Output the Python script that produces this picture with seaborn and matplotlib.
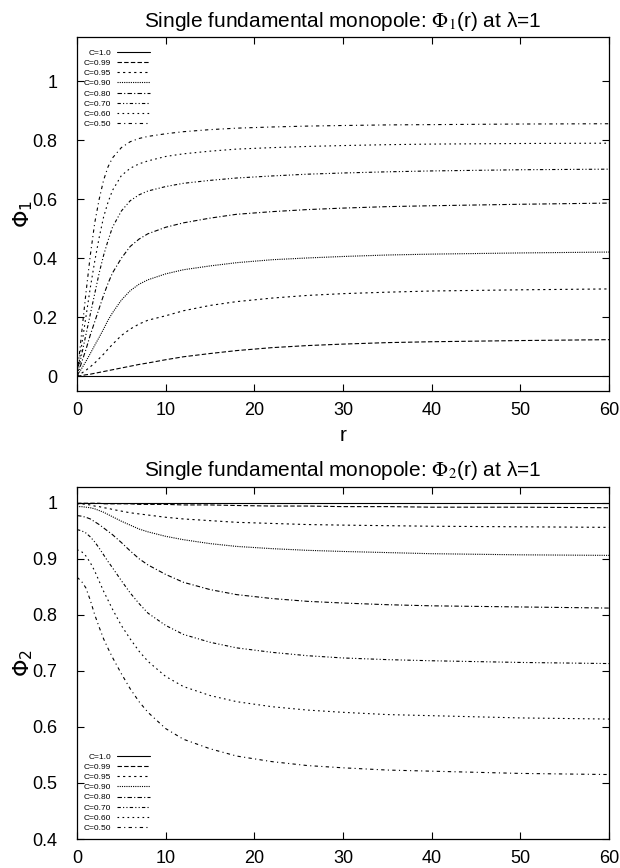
import numpy as np
import pandas as pd
import seaborn as sns
import matplotlib
matplotlib.use("Agg")
import matplotlib.pyplot as plt

# radial grid
r = [0, 0.5, 1, 1.5, 2, 2.5, 3, 3.5, 4, 5, 6, 7, 8, 10, 12, 15, 18, 22, 26, 30, 35, 40, 50, 60]

labels = ["C=1.0", "C=0.99", "C=0.95", "C=0.90", "C=0.80", "C=0.70", "C=0.60", "C=0.50"]

# Phi_1(r)
phi1_c100 = [0] * len(r)
phi1_c099 = [0, 0.002, 0.005, 0.007, 0.01, 0.013, 0.016, 0.019, 0.022, 0.028, 0.034, 0.04, 0.045, 0.056,
             0.066, 0.077, 0.087, 0.097, 0.104, 0.109, 0.114, 0.117, 0.121, 0.124]
phi1_c095 = [0, 0.01, 0.02, 0.032, 0.045, 0.06, 0.075, 0.092, 0.108, 0.138, 0.16, 0.177, 0.19, 0.205,
             0.222, 0.24, 0.253, 0.265, 0.274, 0.28, 0.285, 0.289, 0.293, 0.296]
phi1_c090 = [0, 0.025, 0.05, 0.077, 0.105, 0.132, 0.16, 0.19, 0.215, 0.258, 0.29, 0.312, 0.327, 0.347,
             0.361, 0.374, 0.385, 0.395, 0.401, 0.406, 0.411, 0.414, 0.418, 0.421]
phi1_c080 = [0, 0.045, 0.09, 0.14, 0.185, 0.23, 0.275, 0.315, 0.35, 0.40, 0.44, 0.465, 0.483, 0.505,
             0.52, 0.536, 0.549, 0.558, 0.565, 0.57, 0.575, 0.578, 0.583, 0.587]
phi1_c070 = [0, 0.07, 0.14, 0.21, 0.28, 0.35, 0.41, 0.46, 0.505, 0.56, 0.595, 0.615, 0.628, 0.643,
             0.654, 0.664, 0.672, 0.679, 0.685, 0.689, 0.693, 0.696, 0.7, 0.702]
phi1_c060 = [0, 0.10, 0.20, 0.30, 0.39, 0.47, 0.54, 0.59, 0.63, 0.68, 0.705, 0.72, 0.73, 0.745,
             0.754, 0.763, 0.77, 0.775, 0.779, 0.782, 0.785, 0.787, 0.789, 0.79]
phi1_c050 = [0, 0.14, 0.28, 0.41, 0.52, 0.60, 0.665, 0.71, 0.74, 0.775, 0.795, 0.806, 0.813, 0.822,
             0.829, 0.836, 0.841, 0.845, 0.848, 0.85, 0.852, 0.853, 0.855, 0.856]

# Phi_2(r)
phi2_c100 = [1] * len(r)
phi2_c099 = [0.999, 0.999, 0.999, 0.999, 0.999, 0.999, 0.998, 0.998, 0.998, 0.998, 0.998, 0.997, 0.997,
             0.997, 0.996, 0.996, 0.995, 0.994, 0.994, 0.993, 0.993, 0.992, 0.992, 0.991]
phi2_c095 = [0.998, 0.998, 0.997, 0.996, 0.994, 0.993, 0.991, 0.99, 0.988, 0.985, 0.982, 0.98, 0.978,
             0.974, 0.971, 0.968, 0.965, 0.963, 0.961, 0.96, 0.959, 0.958, 0.957, 0.956]
phi2_c090 = [0.993, 0.993, 0.992, 0.991, 0.989, 0.986, 0.983, 0.979, 0.975, 0.967, 0.96, 0.953, 0.948,
             0.94, 0.934, 0.927, 0.922, 0.918, 0.915, 0.913, 0.911, 0.909, 0.907, 0.906]
phi2_c080 = [0.977, 0.976, 0.974, 0.971, 0.966, 0.961, 0.955, 0.949, 0.943, 0.929, 0.914, 0.90, 0.889,
             0.872, 0.858, 0.845, 0.836, 0.829, 0.824, 0.821, 0.818, 0.816, 0.814, 0.812]
phi2_c070 = [0.952, 0.95, 0.946, 0.939, 0.93, 0.919, 0.907, 0.895, 0.884, 0.861, 0.839, 0.82, 0.803,
             0.781, 0.765, 0.751, 0.741, 0.733, 0.727, 0.723, 0.72, 0.718, 0.715, 0.713]
phi2_c060 = [0.916, 0.913, 0.905, 0.893, 0.878, 0.86, 0.842, 0.826, 0.81, 0.781, 0.757, 0.735, 0.717,
             0.69, 0.672, 0.656, 0.645, 0.636, 0.63, 0.626, 0.622, 0.62, 0.616, 0.614]
phi2_c050 = [0.867, 0.86, 0.848, 0.826, 0.80, 0.778, 0.757, 0.74, 0.724, 0.695, 0.668, 0.645, 0.626,
             0.597, 0.578, 0.561, 0.548, 0.538, 0.531, 0.527, 0.523, 0.521, 0.517, 0.515]

phi1 = [phi1_c100, phi1_c099, phi1_c095, phi1_c090, phi1_c080, phi1_c070, phi1_c060, phi1_c050]
phi2 = [phi2_c100, phi2_c099, phi2_c095, phi2_c090, phi2_c080, phi2_c070, phi2_c060, phi2_c050]

# gnuplot-like dash types
dashes = ["-", (0, (4, 2)), (0, (2, 3)), (0, (1, 1)), (0, (4, 2, 1, 2)),
          (0, (3, 2, 1, 2, 1, 2)), (0, (1.5, 3)), (0, (3, 3, 1, 3))]

sns.set_style("ticks")
plt.rcParams['font.family'] = ['Liberation Sans', 'DejaVu Sans']
plt.rcParams['mathtext.fontset'] = 'stix'
for k in ['text.color', 'axes.labelcolor', 'xtick.color', 'ytick.color', 'axes.edgecolor']:
    plt.rcParams[k] = 'black'

fig = plt.figure(figsize=(6.2, 8.68), dpi=100)
ax1 = fig.add_axes([77 / 620, 1 - 391 / 868, 532 / 620, 354 / 868])
ax2 = fig.add_axes([77 / 620, 1 - 839 / 868, 532 / 620, 352 / 868])

for ax, series in [(ax1, phi1), (ax2, phi2)]:
    for lab, vals, ls in zip(labels, series, dashes):
        df = pd.DataFrame({"r": r, "v": vals})
        sns.lineplot(data=df, x="r", y="v", ax=ax, color="black", linewidth=0.8,
                     linestyle=ls, label=lab)
    ax.set_xlim(0, 60)
    ax.set_xticks(range(0, 61, 10))
    ax.tick_params(direction="in", top=True, right=True, length=5, width=0.8,
                   labelsize=13)
    ax.tick_params(axis="y", pad=14)
    ax.tick_params(axis="x", pad=8)
    for s in ax.spines.values():
        s.set_linewidth(0.9)
    ax.set_xlabel("")

ax1.set_ylim(-0.05, 1.15)
ax1.set_yticks([0, 0.2, 0.4, 0.6, 0.8, 1])
ax1.set_yticklabels(["0", "0.2", "0.4", "0.6", "0.8", "1"])
ax1.set_xlabel("r", fontsize=15, labelpad=5)
ax1.set_ylabel(r"$\Phi_1$", fontsize=16, math_fontfamily='dejavusans', labelpad=-2)
ax1.set_title(r"Single fundamental monopole: $\Phi_1$(r) at λ=1", fontsize=15, pad=7)

ax2.set_ylim(0.4, 1.028)
ax2.set_yticks([0.4, 0.5, 0.6, 0.7, 0.8, 0.9, 1])
ax2.set_yticklabels(["0.4", "0.5", "0.6", "0.7", "0.8", "0.9", "1"])
ax2.set_ylabel(r"$\Phi_2$", fontsize=16, math_fontfamily='dejavusans', labelpad=-2)
ax2.set_title(r"Single fundamental monopole: $\Phi_2$(r) at λ=1", fontsize=15, pad=8)

leg_kw = dict(fontsize=6, frameon=False, markerfirst=False, handlelength=4.0,
              borderpad=0, borderaxespad=0, labelspacing=0.28, handletextpad=0.7)
ax1.legend(loc="upper left", bbox_to_anchor=(0.012, 0.966), **leg_kw)
ax2.legend(loc="lower left", bbox_to_anchor=(0.012, 0.02), **leg_kw)

plt.savefig("out.png", dpi=100)
plt.close()
